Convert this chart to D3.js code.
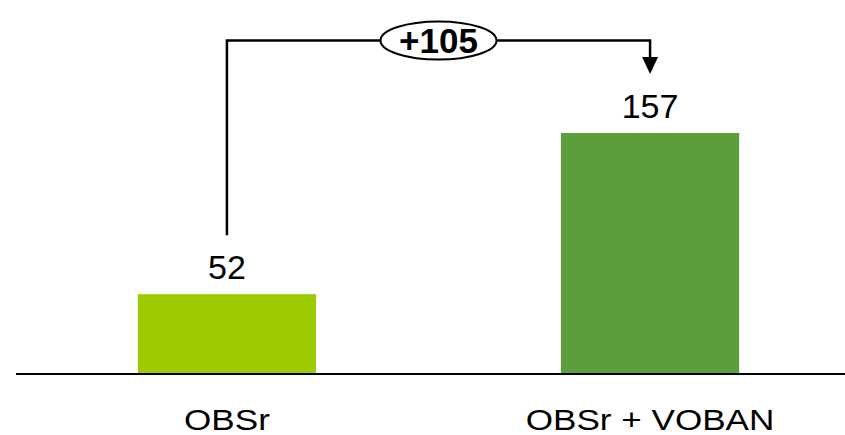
<!DOCTYPE html>
<html>
<head>
<meta charset="utf-8">
<script src="https://cdn.jsdelivr.net/npm/d3@7"></script>
<style>
  html, body { margin: 0; padding: 0; background: #fff; }
  svg { display: block; font-family: Arial, "Liberation Sans", sans-serif; }
</style>
</head>
<body>
<svg id="chart" width="845" height="435"></svg>
<script>
// Chart data
const categories = ["OBSr", "OBSr + VOBAN"];
const values = [52, 157];
const barColors = ["#9BCB00", "#5A9F3A"];
const deltaLabel = "+105";

const svg = d3.select("#chart");
const W = 845, H = 435;

const baseY = 374;

const x = d3.scaleBand()
  .domain(categories)
  .range([16, 861])
  .paddingInner(0.579)
  .paddingOuter(0.288);

const y = d3.scaleLinear()
  .domain([0, 157])
  .range([baseY, 133]);

// Bars
svg.selectAll("rect.bar")
  .data(values)
  .join("rect")
  .attr("class", "bar")
  .attr("x", (d, i) => x(categories[i]))
  .attr("y", d => y(d))
  .attr("width", x.bandwidth())
  .attr("height", d => baseY - y(d))
  .attr("fill", (d, i) => barColors[i]);

// Baseline
svg.append("line")
  .attr("x1", 16).attr("x2", W)
  .attr("y1", baseY).attr("y2", baseY)
  .attr("stroke", "#000").attr("stroke-width", 2);

// Value labels
svg.selectAll("text.val")
  .data(values)
  .join("text")
  .attr("class", "val")
  .attr("x", (d, i) => x(categories[i]) + x.bandwidth() / 2)
  .attr("y", d => y(d) - 15)
  .attr("text-anchor", "middle")
  .attr("font-size", 34)
  .attr("fill", "#000")
  .text(d => d);

// Category labels (slightly widened lettering)
const catY = 429.5;
svg.selectAll("text.cat")
  .data(categories)
  .join("text")
  .attr("class", "cat")
  .attr("transform", d => `translate(${x(d) + x.bandwidth() / 2},${catY}) scale(1.19,1)`)
  .attr("text-anchor", "middle")
  .attr("font-size", 29.5)
  .attr("fill", "#000")
  .text(d => d);

// Difference connector with arrow
const cx0 = x(categories[0]) + x.bandwidth() / 2;
const cx1 = x(categories[1]) + x.bandwidth() / 2;
const topY = 40.5;
const startY = y(values[0]) - 59;
const tipY = y(values[1]) - 59;
const headH = 17, headW = 16;

svg.append("path")
  .attr("d", `M${cx0},${startY} V${topY} H${cx1} V${tipY - headH + 1}`)
  .attr("fill", "none")
  .attr("stroke", "#000")
  .attr("stroke-width", 2.5);

svg.append("path")
  .attr("d", `M${cx1 - headW / 2},${tipY - headH} L${cx1 + headW / 2},${tipY - headH} L${cx1},${tipY} Z`)
  .attr("fill", "#000");

// Difference badge
const badgeX = (cx0 + cx1) / 2;
svg.append("ellipse")
  .attr("cx", badgeX).attr("cy", topY)
  .attr("rx", 58).attr("ry", 19)
  .attr("fill", "#fff")
  .attr("stroke", "#000")
  .attr("stroke-width", 2);

svg.append("text")
  .attr("x", badgeX)
  .attr("y", topY + 12.5)
  .attr("text-anchor", "middle")
  .attr("font-size", 35)
  .attr("font-weight", "bold")
  .attr("fill", "#000")
  .text(deltaLabel);
</script>
</body>
</html>
